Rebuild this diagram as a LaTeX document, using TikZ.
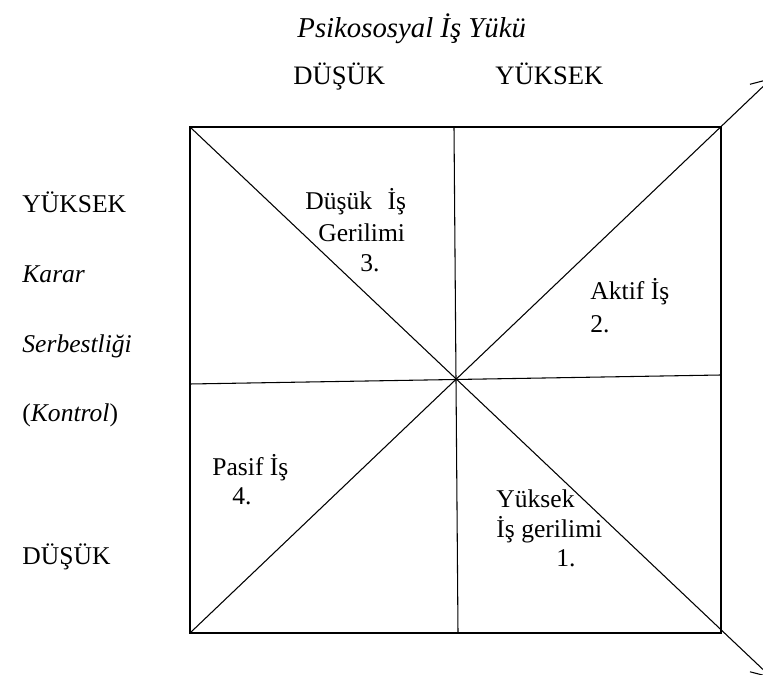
\documentclass[tikz,border=0pt]{standalone}
\usepackage{fontspec}
\setmainfont{Liberation Serif}
\usetikzlibrary{arrows.meta}

\begin{document}
\begin{tikzpicture}[
    x=0.0165cm, y=-0.0165cm,
    every node/.style={font=\fontsize{12}{14}\selectfont, inner sep=0pt, anchor=base west},
    head/.style={font=\fontsize{13.5}{16}\selectfont\itshape},
    level/.style={font=\fontsize{12.5}{15}\selectfont},
    frame/.style={draw, line width=1pt},
    divider/.style={draw, line width=0.5pt},
    axis/.style={draw, line width=0.5pt, -{Straight Barb[length=9pt, width=10pt]}}
]
\useasboundingbox (0,0) rectangle (763,675);

% 外框四角
\coordinate (tl) at (190,127);
\coordinate (tr) at (721,127);
\coordinate (bl) at (190,633);
\coordinate (br) at (721,633);
\draw[frame] (tl) rectangle (br);

% 十字分隔线
\coordinate (top) at (454,127);
\coordinate (bot) at (458,633);
\coordinate (lft) at (190,384);
\coordinate (rgt) at (721,375);
\draw[divider] (top) -- (bot);
\draw[divider] (lft) -- (rgt);

% 对角线 (延伸出框外)
\coordinate (upend) at (772,78);
\coordinate (downend) at (772,678);
\draw[axis] (bl) -- (upend);
\draw[axis] (tl) -- (downend);

% 上方标题
\node[head] (title) at (297,38) {Psikososyal İş Yükü};
\node[level] (xlow) at (293,85) {DÜŞÜK};
\node[level] (xhigh) at (495,85) {YÜKSEK};

% 左侧标题
\node (yhigh) at (22,213) {YÜKSEK};
\node (ylabA) at (22,283) {\itshape Karar};
\node (ylabB) at (22,353) {\itshape Serbestliği};
\node (ylabC) at (22,422) {(\textit{Kontrol})};
\node (ylow) at (22,565) {DÜŞÜK};

% 四个象限
\node (q3a) at (305,210) {Düşük\hspace{0.6em}İş};
\node (q3b) at (318,242) {Gerilimi};
\node (q3c) at (360,272) {3.};

\node (q2a) at (590,300) {Aktif İş};
\node (q2b) at (590,333) {2.};

\node (q4a) at (212,476) {Pasif İş};
\node (q4b) at (232,505) {4.};

\node (q1a) at (496,508) {Yüksek};
\node (q1b) at (496,538) {İş gerilimi};
\node (q1c) at (556,567) {1.};

\end{tikzpicture}
\end{document}
